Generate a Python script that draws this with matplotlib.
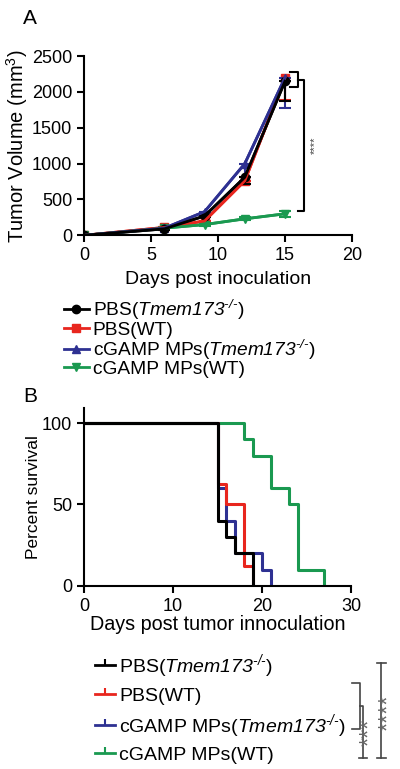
import matplotlib
matplotlib.use("Agg")
import matplotlib.pyplot as plt
from matplotlib.lines import Line2D

plt.rcParams['font.family'] = ['Liberation Sans', 'DejaVu Sans']
plt.rcParams['mathtext.fontset'] = 'custom'
plt.rcParams['mathtext.rm'] = 'Liberation Sans:italic'
plt.rcParams['mathtext.it'] = 'Liberation Sans:italic'
plt.rcParams['mathtext.sf'] = 'Liberation Sans'

# ---- data: panel A (tumor volume) ----
days = [0, 6, 9, 12, 15]
pbs_ko = [0, 90, 270, 810, 2150]
pbs_wt = [0, 110, 200, 760, 2200]
mp_ko = [0, 100, 330, 1000, 2200]
mp_wt = [0, 100, 150, 230, 300]
err_pbs_ko = [0, 10, 20, 90, 270]
err_pbs_wt = [0, 10, 20, 40, 310]
err_mp_ko = [0, 10, 20, 190, 420]
err_mp_wt = [0, 10, 15, 20, 40]

labels = [r'PBS($Tmem173^{\text{-/-}}$)', 'PBS(WT)',
          r'cGAMP MPs($Tmem173^{\text{-/-}}$)', 'cGAMP MPs(WT)']
colors = ['black', '#e8261e', '#2e3192', '#1a9950']

# ---- data: panel B (survival) ----
t_pbs_ko = [0, 15, 16, 17, 19]
s_pbs_ko = [100, 40, 30, 20, 0]
t_pbs_wt = [0, 15, 16, 18, 19]
s_pbs_wt = [100, 62.5, 50, 12.5, 0]
t_mp_ko = [0, 15, 16, 17, 20, 21]
s_mp_ko = [100, 60, 40, 20, 10, 0]
t_mp_wt = [0, 18, 19, 21, 23, 24, 27]
s_mp_wt = [100, 90, 80, 60, 50, 10, 0]

fig = plt.figure(figsize=(4.0, 7.69), dpi=100)

# ---------------- panel A ----------------
ax1 = fig.add_axes([0.21, 0.694, 0.67, 0.233])
series = [(pbs_wt, err_pbs_wt, 1, 's'), (mp_wt, err_mp_wt, 3, 'v'),
          (mp_ko, err_mp_ko, 2, '^'), (pbs_ko, err_pbs_ko, 0, 'o')]
handles = {}
for vals, err, k, m in series:
    lower = err
    upper = [e if k == 3 else 0 for e in err]
    ax1.errorbar(days, vals, yerr=[lower, upper], color=colors[k], lw=2,
                 capsize=4, capthick=1.5, elinewidth=1.5)
    h, = ax1.plot(days, vals, color=colors[k], lw=2, marker=m, ms=6)
    handles[k] = h
ax1.set_xlim(0, 20)
ax1.set_ylim(0, 2500)
ax1.set_xticks([0, 5, 10, 15, 20])
ax1.set_yticks([0, 500, 1000, 1500, 2000, 2500])
ax1.spines['top'].set_visible(False)
ax1.spines['right'].set_visible(False)
for s in ['left', 'bottom']:
    ax1.spines[s].set_linewidth(1.5)
ax1.tick_params(width=1.5, length=5, labelsize=13)
ax1.set_ylabel(r'Tumor Volume (mm$^\mathsf{3}$)', fontsize=14.5, labelpad=1)
ax1.set_xlabel('Days post inoculation', fontsize=14, labelpad=5)

# significance brackets A
ax1.plot([15.4, 16.0, 16.0, 15.4], [2280, 2280, 2070, 2070], color='black', lw=1.5, clip_on=False)
ax1.plot([16.0, 16.4, 16.4, 16.0], [2170, 2170, 335, 335], color='black', lw=1.5, clip_on=False)
ax1.text(17.2, 1250, '****', rotation=90, fontsize=8, ha='center', va='center', color='#444444')

fig.text(0.058, 0.976, 'A', fontsize=15, ha='left', va='center')

legA = fig.legend([handles[k] for k in range(4)], labels, loc='upper left',
                  bbox_to_anchor=(0.16, 0.6125), frameon=False, fontsize=13.8,
                  handlelength=1.3, handletextpad=0.2, labelspacing=-0.05,
                  borderpad=0, borderaxespad=0)

# ---------------- panel B ----------------
ax2 = fig.add_axes([0.21, 0.238, 0.6675, 0.231])
surv = [(t_mp_wt, s_mp_wt, 3), (t_mp_ko, s_mp_ko, 2),
        (t_pbs_wt, s_pbs_wt, 1), (t_pbs_ko, s_pbs_ko, 0)]
for t, sv, k in surv:
    ax2.step(t, sv, where='post', color=colors[k], lw=2.2)
ax2.set_xlim(0, 30)
ax2.set_ylim(0, 109)
ax2.set_xticks([0, 10, 20, 30])
ax2.set_yticks([0, 50, 100])
ax2.spines['top'].set_visible(False)
ax2.spines['right'].set_visible(False)
for s in ['left', 'bottom']:
    ax2.spines[s].set_linewidth(1.5)
ax2.tick_params(width=1.5, length=5, labelsize=13)
ax2.set_ylabel('Percent survival', fontsize=12.5, labelpad=1)
ax2.set_xlabel('Days post tumor innoculation', fontsize=14.2, labelpad=0)

fig.text(0.058, 0.484, 'B', fontsize=15, ha='left', va='center')

hB = [Line2D([], [], color=c, lw=2, marker=2, ms=4, markeredgewidth=1.5) for c in colors]
legB = fig.legend(hB, labels, loc='upper left', bbox_to_anchor=(0.2375, 0.152),
                  frameon=False, fontsize=14, handlelength=1.05, handletextpad=0.2,
                  labelspacing=0.36, borderpad=0, borderaxespad=0)

def fx(px):
    return px / 400.0

def fy(py):
    return 1 - py / 769.0

br = dict(color='#444444', lw=1.2, transform=fig.transFigure)
fig.add_artist(Line2D([fx(352), fx(360), fx(360), fx(352)], [fy(683), fy(683), fy(729), fy(729)], **br))
fig.add_artist(Line2D([fx(360), fx(363), fx(363)], [fy(706), fy(706), fy(758)], **br))
fig.add_artist(Line2D([fx(359), fx(367)], [fy(758), fy(758)], **br))
fig.add_artist(Line2D([fx(381), fx(381)], [fy(663), fy(758)], **br))
fig.add_artist(Line2D([fx(377), fx(386)], [fy(663), fy(663)], **br))
fig.add_artist(Line2D([fx(377), fx(386)], [fy(758), fy(758)], **br))
fig.text(fx(370), fy(732), '***', rotation=90, fontsize=17, ha='center', va='center', color='#666666')
fig.text(fx(389), fy(713), '****', rotation=90, fontsize=17, ha='center', va='center', color='#666666')

fig.savefig('out.png', dpi=100)
